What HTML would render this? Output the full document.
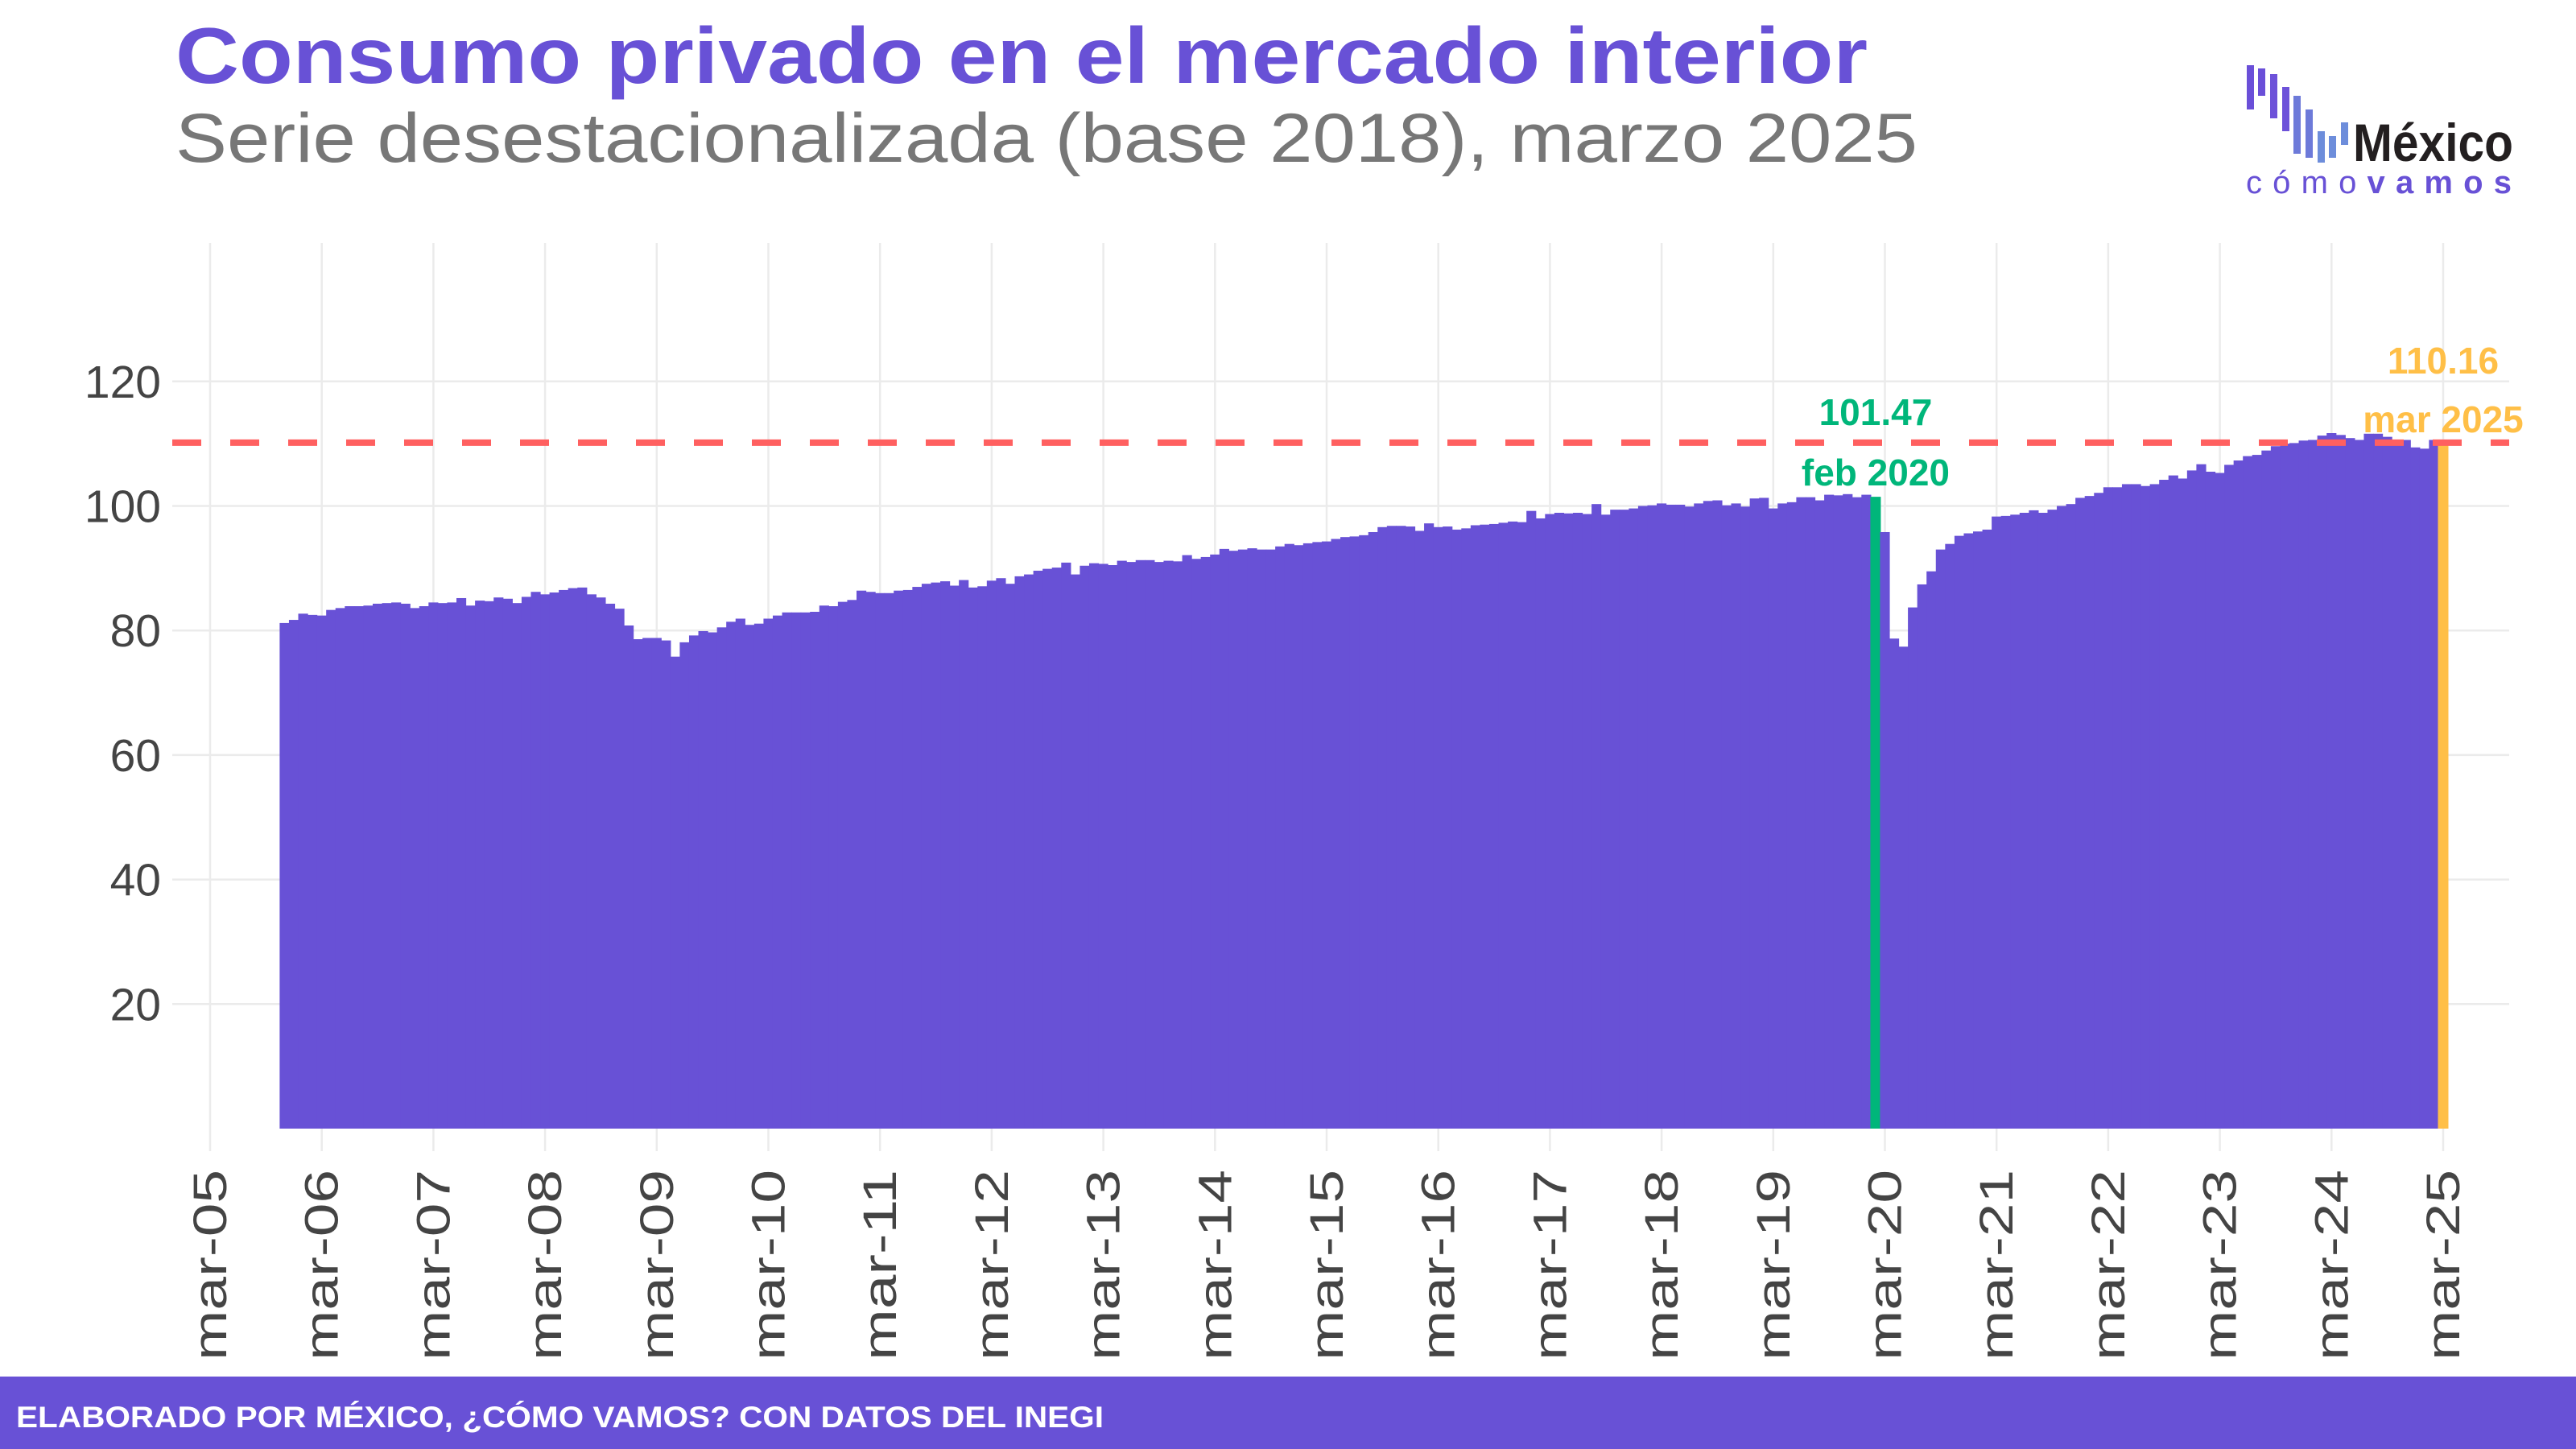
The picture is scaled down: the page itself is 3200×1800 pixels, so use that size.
<!DOCTYPE html>
<html><head><meta charset="utf-8"><style>
html,body{margin:0;padding:0;background:#fff;}
svg{display:block;font-family:"Liberation Sans",sans-serif;}
</style></head><body>
<svg id="chart" width="3200" height="1800" viewBox="0 0 3200 1800" xmlns="http://www.w3.org/2000/svg">
<text x="218" y="103" font-size="98" font-weight="bold" fill="#6851d6" textLength="2102" lengthAdjust="spacingAndGlyphs">Consumo privado en el mercado interior</text>
<text x="218" y="201" font-size="86" fill="#777" textLength="2164" lengthAdjust="spacingAndGlyphs">Serie desestacionalizada (base 2018), marzo 2025</text>
<g>
<rect x="2791" y="81" width="9" height="55" fill="#6a4fd8"/>
<rect x="2805" y="85" width="9" height="34" fill="#6a4fd8"/>
<rect x="2820" y="92" width="9" height="55" fill="#6d52d9"/>
<rect x="2835" y="108" width="9" height="55" fill="#6d52d9"/>
<rect x="2849" y="119" width="9" height="72" fill="#6d7ad9"/>
<rect x="2864" y="136" width="9" height="60" fill="#6d7ad9"/>
<rect x="2879" y="163" width="9" height="39" fill="#6d8ddb"/>
<rect x="2893" y="169" width="9" height="27" fill="#6d8ddb"/>
<rect x="2908" y="152" width="9" height="28" fill="#6d8ddb"/>
<text x="2923" y="200" font-size="66" font-weight="bold" fill="#231f20" textLength="199" lengthAdjust="spacingAndGlyphs">México</text>
<text x="2790" y="240" font-size="40" fill="#6851d6" textLength="330" lengthAdjust="spacing">c ó m o <tspan font-weight="bold">v a m o s</tspan></text>
</g>
<g id="grid"></g>
<g id="yticks"></g>
<g id="xticks"></g>
<g id="bars"></g>
<g id="annot"></g>
<rect x="0" y="1710" width="3200" height="90" fill="#6851d6"/>
<text x="20" y="1773" font-size="37" font-weight="bold" fill="#fff" textLength="1351" lengthAdjust="spacingAndGlyphs">ELABORADO POR MÉXICO, ¿CÓMO VAMOS? CON DATOS DEL INEGI</text>
</svg>
<script>
const startYear = 2005, startMonth = 10; // Nov 2005 (0-based month)
const values = [
81.2,81.7,82.7,82.5,82.4,83.3,83.6,83.9,83.9,84.0,84.3,84.4,84.5,84.3,83.6,83.9,84.5,84.4,84.5,85.2,
84.0,84.8,84.7,85.3,85.1,84.4,85.4,86.2,85.8,86.1,86.5,86.8,86.9,85.8,85.3,84.3,83.5,80.8,78.6,78.8,
78.8,78.4,75.8,78.1,79.2,79.9,79.7,80.5,81.4,81.9,80.9,81.1,81.9,82.4,82.9,82.9,82.9,83.0,84.0,83.9,
84.6,84.9,86.4,86.2,86.0,86.0,86.4,86.5,87.0,87.5,87.7,87.9,87.2,88.1,86.9,87.1,88.0,88.4,87.5,88.7,
89.0,89.6,89.9,90.1,90.9,89.0,90.4,90.8,90.7,90.5,91.2,91.0,91.3,91.3,91.0,91.2,91.1,92.1,91.5,91.8,
92.2,93.1,92.8,93.0,93.2,93.0,93.0,93.5,93.9,93.7,94.0,94.2,94.3,94.7,95.0,95.1,95.3,95.8,96.6,96.8,
96.8,96.7,96.0,97.2,96.6,96.7,96.2,96.4,96.9,97.0,97.1,97.3,97.5,97.4,99.2,98.0,98.7,98.9,98.8,98.9,
98.7,100.3,98.6,99.4,99.4,99.6,100.0,100.1,100.4,100.2,100.2,99.9,100.4,100.8,100.9,100.1,100.4,99.9,101.2,101.3,
99.6,100.4,100.6,101.4,101.4,100.9,101.8,101.7,101.9,101.4,101.8,101.47,95.8,
78.7,77.4,83.7,87.4,89.5,93.0,93.9,95.2,95.6,95.9,96.2,98.3,98.4,98.6,98.9,99.3,98.9,99.4,100.0,100.3,
101.3,101.6,102.1,103.0,103.0,103.5,103.5,103.2,103.5,104.2,104.9,104.4,105.7,106.7,105.5,105.3,106.6,107.3,108.0,108.2,
108.9,109.6,110.0,110.1,110.5,110.6,111.3,111.7,111.4,110.9,110.6,111.6,111.6,111.1,110.2,110.6,109.4,109.2,110.6,110.16
];
const yTicks = [20,40,60,80,100,120];
const xTickYears = [2005,2006,2007,2008,2009,2010,2011,2012,2013,2014,2015,2016,2017,2018,2019,2020,2021,2022,2023,2024,2025];
const refValue = 110.16;
const highlightFeb = {year:2020, month:1, label:"feb 2020"};
const lastLabel = "mar 2025";

const NS = "http://www.w3.org/2000/svg";
const px0 = 214, px1 = 3117, pyTop = 302, pyBot = 1430;
const mIdx = (y,m)=> y*12+m;
const x0m = mIdx(2005,2), x1m = mIdx(2025,2);
const X = m => 261 + (m - x0m) * (3035-261)/(x1m - x0m);
const Y = v => 1402 - v * 7.735;
const bw = (3035-261)/(x1m-x0m);
function mk(tag, attrs, parent){const e=document.createElementNS(NS,tag);for(const k in attrs)e.setAttribute(k,attrs[k]);parent.appendChild(e);return e;}
const grid=document.getElementById('grid'), yt=document.getElementById('yticks'), xt=document.getElementById('xticks'), bars=document.getElementById('bars'), an=document.getElementById('annot');
yTicks.forEach(v=>{
  const l=mk('line',{x1:px0,x2:px1,y1:Y(v),y2:Y(v),stroke:'#ebebeb','stroke-width':2.5},grid);
  
  
  const t=mk('text',{x:200,y:Y(v)+20,'text-anchor':'end','font-size':57,fill:'#444'},yt);
  
  
  t.textContent=v;
});
xTickYears.forEach(yr=>{
  const x=X(mIdx(yr,2));
  const l=mk('line',{x1:x,x2:x,y1:pyTop,y2:pyBot,stroke:'#ebebeb','stroke-width':2.5},grid);
  
  
  const t=mk('text',{x:0,y:0,'text-anchor':'end','font-size':58,fill:'#444',textLength:237,lengthAdjust:'spacingAndGlyphs',transform:`translate(${x+20},1453) rotate(-90)`},xt);
  
  
  t.textContent='mar-'+String(yr%100).padStart(2,'0');
});
const start=mIdx(startYear,startMonth);
const febIdx=mIdx(highlightFeb.year,highlightFeb.month)-start;
values.forEach((v,i)=>{
  const m=start+i; const last=i===values.length-1; const feb=i===febIdx;
  const w=(last||feb)?13:bw+0.6;
  const r=mk('rect',{x:X(m)-w/2,y:Y(v),width:w,height:Y(0)-Y(v),fill:last?'#ffbf47':feb?'#00b67a':'#6851d6'},bars);
  
  
});
const dl=mk('line',{x1:px0,x2:px1,y1:Y(refValue),y2:Y(refValue),stroke:'#ff6060','stroke-width':8,'stroke-dasharray':'36 36'},an);


const fx=X(start+febIdx), lx=X(start+values.length-1);
[[fx,528,values[febIdx].toFixed(2),'#00b67a','feb-value-label'],[fx,603,highlightFeb.label,'#00b67a','feb-date-label'],
 [lx,464,values[values.length-1].toFixed(2),'#ffbf47','latest-value-label'],[lx,537,lastLabel,'#ffbf47','latest-date-label']].forEach(a=>{
  const t=mk('text',{x:a[0],y:a[1],'text-anchor':'middle','font-size':46,'font-weight':'bold',fill:a[3]},an);
  
  
  t.textContent=a[2];
});
</script>
</body></html>
